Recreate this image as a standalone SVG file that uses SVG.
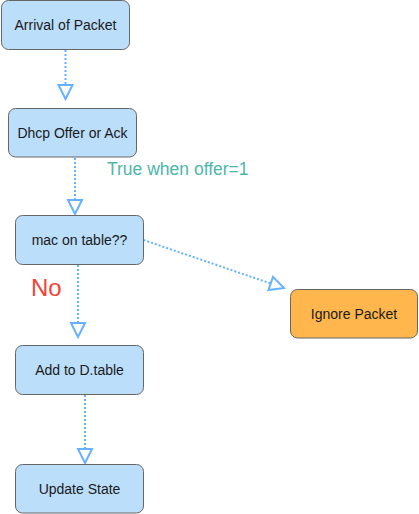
<svg xmlns="http://www.w3.org/2000/svg" width="419" height="514" viewBox="0 0 419 514">
<defs>
<style>
.node rect{fill:#BBDEFB;stroke:#666666;stroke-width:1}
.node.orange rect{fill:#FFB74D}
.node text{font-family:"Liberation Sans",Arial,sans-serif;font-size:14px;fill:#1a1a1a;text-anchor:middle}
.edge{fill:none;stroke:#66B2FF;stroke-width:2;stroke-dasharray:2 2;marker-end:url(#arr)}
.lbl{font-family:"Liberation Sans",Arial,sans-serif}
</style>
<marker id="arr" markerUnits="userSpaceOnUse" markerWidth="18" markerHeight="18" viewBox="0 0 18 18" refX="16" refY="9" orient="auto">
<path d="M2,2 L16,9 L2,16 Z" fill="#ffffff" stroke="#66B2FF" stroke-width="2" stroke-linejoin="miter"/>
</marker>
</defs>
<rect width="419" height="514" fill="#ffffff"/>
<g id="connectors">
<path class="edge" d="M65.5,50 L65.5,99"/>
<path class="edge" d="M75,158 L75,214"/>
<path class="edge" d="M143.5,240 L284,288"/>
<path class="edge" d="M78,265 L78,337"/>
<path class="edge" d="M85,395 L85,463"/>
</g>
<g id="n1" class="node"><rect x="1.5" y="0.5" width="128" height="49" rx="7"/><text x="65.5" y="30">Arrival of Packet</text></g>
<g id="n2" class="node"><rect x="8.5" y="108.5" width="128" height="48.5" rx="7"/><text x="72.5" y="138">Dhcp Offer or Ack</text></g>
<g id="n3" class="node"><rect x="15.5" y="215.5" width="128" height="49" rx="7"/><text x="79.5" y="245">mac on table??</text></g>
<g id="n4" class="node orange"><rect x="290.5" y="289.5" width="127" height="48.5" rx="7"/><text x="354" y="319">Ignore Packet</text></g>
<g id="n5" class="node"><rect x="15.5" y="345.5" width="128" height="49" rx="7"/><text x="79.5" y="375">Add to D.table</text></g>
<g id="n6" class="node"><rect x="15.5" y="464.5" width="128" height="48.5" rx="7"/><text x="79.5" y="494">Update State</text></g>
<g id="labels">
<text class="lbl" x="107" y="174.5" font-size="17.5" fill="#4DB6AC">True when offer=1</text>
<text class="lbl" x="31" y="296" font-size="24" fill="#F44336">No</text>
</g>
</svg>
